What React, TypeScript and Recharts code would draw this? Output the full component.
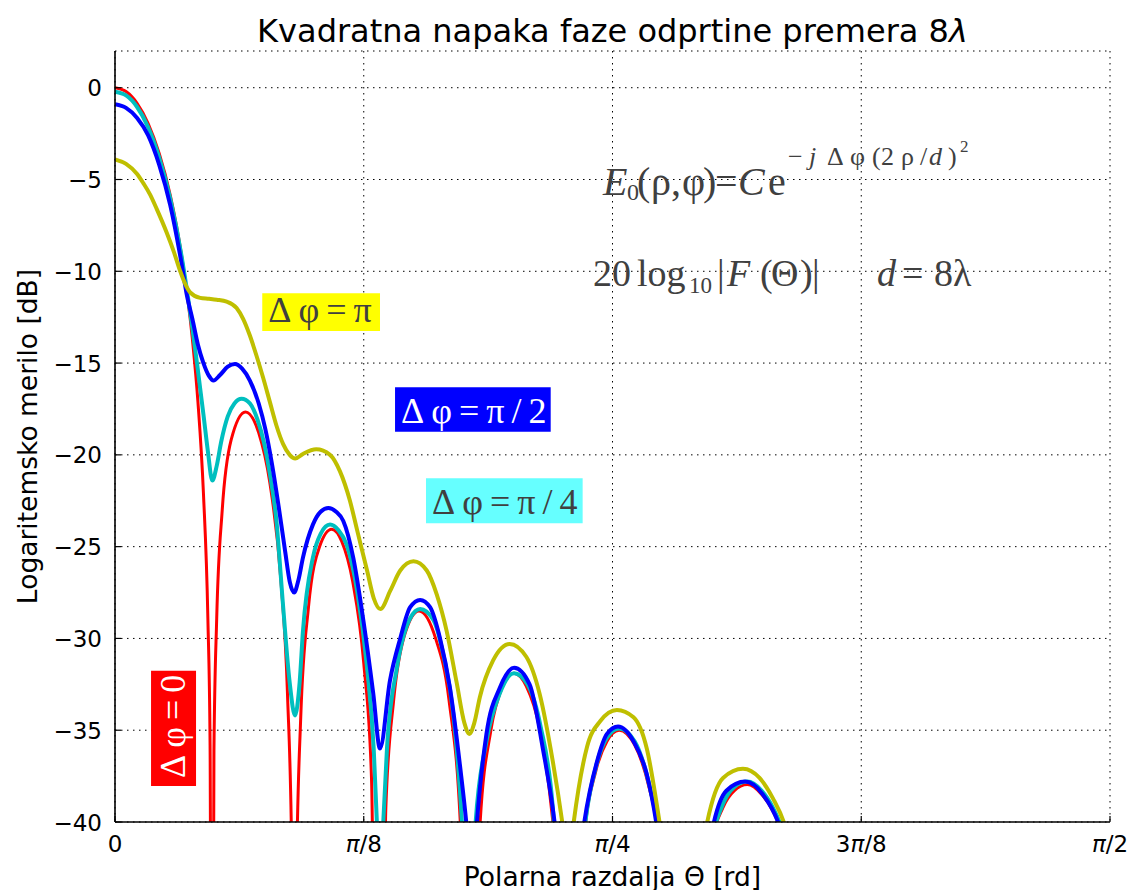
import React from 'react';
import { LineChart, Line, XAxis, YAxis, CartesianGrid, ReferenceArea, ReferenceDot, Label } from 'recharts';

// x in degrees (0..90 = 0..π/2), y in dB
const xTicks = [0, 22.5, 45, 67.5, 90];
const xTickLabels = ['0', 'π/8', 'π/4', '3π/8', 'π/2'];
const yTicks = [-40, -35, -30, -25, -20, -15, -10, -5, 0];
const yTickLabels = ['−40', '−35', '−30', '−25', '−20', '−15', '−10', '−5', '0'];

const seriesNames = ['Δφ=0', 'Δφ=π/4', 'Δφ=π/2', 'Δφ=π'];

// Δφ = 0 (red)
const redX = [0, 1, 2, 3, 4, 5, 6, 7, 7.5, 8, 8.4, 8.6, 8.77, 8.95, 9.2, 9.7, 10.5, 11.8, 13, 14, 15, 15.6, 16.0, 16.19, 16.4, 16.8, 17.5, 18.5, 19.6, 20.5, 21.5, 22.5, 23.2, 23.88, 24.5, 25.2, 26.2, 27.5, 29, 30.2, 31.3, 32.02, 33, 34, 35, 36.07, 37.2, 38.4, 39.5, 40.2, 40.97, 42.4, 43.5, 44.5, 45.6, 47, 48.3, 49.3, 51.28, 53.5, 55, 56, 57.2, 58.5, 59.5, 60.5, 61.5, 64.9];
const redY = [0, -0.21, -0.85, -1.95, -3.58, -5.86, -9.06, -13.7, -17.1, -22.1, -28.9, -35.8, -70, -36.1, -28.9, -23.0, -19.2, -17.66, -18.8, -21.5, -26.8, -33.0, -42.3, -70, -43.7, -34.3, -28.3, -25.0, -24.05, -24.7, -26.9, -31.35, -37.6, -70, -39.2, -33.4, -29.8, -28.5, -30.0, -33.3, -40.9, -70, -40.3, -35.0, -32.7, -31.9, -32.6, -34.9, -39.4, -44.6, -70, -41.1, -37.2, -35.6, -35.0, -35.8, -38.1, -41.3, -70, -42.5, -39.2, -38.3, -37.96, -38.5, -39.4, -40.8, -42.8, -70];

// Δφ = π/4 (cyan)
const cyanX = [0, 1, 2, 3, 4, 5, 6, 6.5, 7, 7.5, 8, 8.4, 8.8, 9.2, 9.6, 10.2, 10.8, 11.45, 12.2, 12.9, 13.5, 14.0, 14.6, 15.2, 15.8, 16.28, 16.7, 17.0, 17.9, 18.6, 19.45, 20.2, 20.96, 21.9, 22.8, 23.4, 23.7, 24.0, 24.25, 24.6, 25.5, 26.7, 27.6, 28.8, 29.7, 30.6, 31.4, 32.0, 32.6, 33.6, 34.8, 36.1, 37.3, 38.5, 39.6, 40.97, 42.4, 43.5, 44.5, 45.6, 47, 48.3, 49.3, 51.3, 53.5, 55, 56, 57.2, 58.5, 59.5, 60.5, 61.5, 64.9];
const cyanY = [-0.22, -0.42, -1.05, -2.15, -3.8, -6.05, -9.1, -11.0, -13.1, -15.4, -17.8, -19.8, -21.4, -20.6, -19.3, -17.9, -17.2, -16.95, -17.2, -18.1, -19.4, -21.0, -23.6, -28.2, -32.4, -34.2, -32.4, -29.6, -25.6, -24.3, -23.8, -24.1, -24.9, -27.4, -31.6, -36.0, -40.2, -44, -40.2, -36.0, -31.6, -28.9, -28.4, -29.0, -30.9, -34.1, -40.2, -48, -40.2, -35.6, -33.0, -31.9, -32.5, -34.8, -39.2, -55, -40.8, -37.0, -35.4, -34.9, -35.6, -37.9, -41, -55, -42.3, -39.0, -38.1, -37.8, -38.3, -39.2, -40.6, -42.6, -60];

// Δφ = π/2 (blue)
const blueX = [0, 1, 2, 3, 4, 5, 6, 6.5, 7, 7.5, 8, 8.5, 8.9, 9.5, 10.2, 10.85, 11.5, 12.2, 13.0, 13.6, 14.2, 14.8, 15.4, 15.8, 16.2, 16.6, 17.0, 17.9, 18.6, 19.3, 20.0, 20.65, 21.55, 22.46, 23.36, 23.97, 24.87, 25.8, 26.7, 27.6, 28.5, 29.4, 30.3, 31.2, 31.8, 32.3, 32.7, 33.6, 34.8, 36.1, 37.5, 38.7, 39.8, 41.0, 42.4, 43.6, 44.5, 45.5, 46.9, 48.1, 49.0, 51.3, 54.1, 55.3, 57.0, 58.6, 60.1, 62, 65];
const blueY = [-0.9, -1.1, -1.65, -2.6, -4.2, -6.4, -9.5, -11.3, -12.6, -14.0, -15.0, -15.7, -15.95, -15.65, -15.2, -15.05, -15.3, -15.95, -17.2, -18.6, -20.5, -22.8, -25.3, -26.9, -27.5, -26.8, -25.6, -23.8, -23.1, -22.9, -23.1, -23.6, -25.6, -29.0, -33.0, -36.0, -32.3, -30.0, -28.3, -27.9, -28.3, -30.0, -32.7, -36.9, -40.2, -44, -40.3, -35.2, -32.7, -31.6, -32.5, -36.0, -40.2, -48, -40.2, -36.7, -35.2, -34.8, -35.6, -37.4, -40.2, -55, -40.2, -38.3, -37.8, -38.5, -40.2, -45, -55];

// Δφ = π (yellow)
const yellowX = [0, 1, 2, 2.56, 3.2, 3.77, 4.68, 5.3, 5.9, 6.4, 6.8, 7.7, 8.5, 9.2, 10.1, 11.0, 11.6, 12.2, 12.8, 13.4, 14.0, 14.6, 15.2, 15.8, 16.3, 17.0, 18.2, 19.45, 20.35, 21.25, 21.9, 22.8, 23.4, 24.0, 24.9, 25.8, 27.0, 28.2, 29.1, 30.0, 30.9, 31.6, 32.05, 32.5, 33.0, 34.2, 35.7, 37.2, 38.4, 39.6, 40.5, 41.0, 41.45, 42.7, 43.9, 45.4, 46.9, 48.1, 49.3, 51.4, 53.5, 55.0, 56.8, 58.3, 59.5, 60.6, 62, 65];
const yellowY = [-3.9, -4.15, -4.7, -5.2, -5.85, -6.6, -7.9, -8.9, -10.0, -10.75, -11.15, -11.45, -11.5, -11.55, -11.65, -12.0, -12.6, -13.5, -14.6, -15.8, -17.1, -18.4, -19.4, -20.0, -20.2, -19.95, -19.7, -20.0, -20.9, -22.5, -24.1, -26.3, -27.8, -28.4, -27.4, -26.3, -25.8, -26.3, -27.6, -29.6, -32.4, -34.6, -35.2, -34.6, -33.2, -31.2, -30.3, -31.0, -33.0, -36.7, -40.2, -42.5, -40.2, -35.9, -34.5, -33.9, -34.3, -36.0, -40.2, -50, -40.2, -37.6, -37.1, -37.6, -38.7, -40.2, -44, -52];

const toData = (xs: number[], ys: number[]) => xs.map((x, i) => ({ x, y: ys[i] }));

const SANS = "'DejaVu Sans', sans-serif";
const SERIF = "'Liberation Serif', 'DejaVu Serif', serif";
const TXT = '#404040';

function piText(label: string) {
  const parts = label.split('π');
  if (parts.length === 1) return label;
  return (
    <>
      {parts[0]}
      <tspan fontStyle="italic">π</tspan>
      {parts[1]}
    </>
  );
}

function BottomTick(props: any) {
  const { x, y, payload } = props;
  const i = xTicks.indexOf(payload.value);
  return (
    <g>
      <line x1={x} y1={y} x2={x} y2={y - 6} stroke="#000" strokeWidth={1.2} />
      <text x={x} y={y + 30} textAnchor="middle" fontFamily={SANS} fontSize={23} fill="#000">
        {piText(xTickLabels[i] ?? '')}
      </text>
    </g>
  );
}
function TopTick(props: any) {
  const { x, y } = props;
  return <line x1={x} y1={y} x2={x} y2={y + 6} stroke="#000" strokeWidth={1.2} />;
}
function LeftTick(props: any) {
  const { x, y, payload } = props;
  const i = yTicks.indexOf(payload.value);
  return (
    <g>
      <line x1={x} y1={y} x2={x + 6} y2={y} stroke="#000" strokeWidth={1.2} />
      <text x={x - 13} y={y + 8.5} textAnchor="end" fontFamily={SANS} fontSize={23} fill="#000">
        {yTickLabels[i] ?? ''}
      </text>
    </g>
  );
}
function RightTick(props: any) {
  const { x, y } = props;
  return <line x1={x} y1={y} x2={x - 6} y2={y} stroke="#000" strokeWidth={1.2} />;
}

const vb = (p: any) => p.viewBox || { x: 0, y: 0, width: 0, height: 0 };
const center = (p: any) => {
  const v = vb(p);
  return { cx: v.x + (v.width || 0) / 2, cy: v.y + (v.height || 0) / 2 };
};

const titleContent = (p: any) => {
  const { cy } = center(p);
  return (
    <text x={612.5} y={cy - 9} textAnchor="middle" fontFamily={SANS} fontSize={32} fill="#000">
      Kvadratna napaka faze odprtine premera 8<tspan fontStyle="italic">λ</tspan>
    </text>
  );
};
const xLabelContent = (p: any) => {
  const v = vb(p);
  return (
    <text x={v.x + v.width / 2} y={v.y + 64} textAnchor="middle" fontFamily={SANS} fontSize={26.5} fill="#000">
      Polarna razdalja Θ [rd]
    </text>
  );
};
const yLabelContent = (p: any) => {
  const v = vb(p);
  const cy = v.y + v.height / 2;
  return (
    <text transform={`translate(37, ${cy}) rotate(-90)`} textAnchor="middle" fontFamily={SANS} fontSize={26.5} fill="#000">
      Logaritemsko merilo [dB]
    </text>
  );
};

const boxLabel = (text: string, color: string) => (p: any) => {
  const v = vb(p);
  return (
    <text x={v.x + 6} y={v.y + v.height - 9} fontFamily={SERIF} fontSize={36} letterSpacing={7} fill={color}>
      {text}
    </text>
  );
};
const redBoxLabel = (p: any) => {
  const v = vb(p);
  return (
    <text transform={`translate(${v.x + 34}, ${v.y + v.height - 8}) rotate(-90)`} fontFamily={SERIF} fontSize={36} letterSpacing={7} fill="#fff">
      {seriesNames[0]}
    </text>
  );
};

const eq1 = (p: any) => {
  const { cx: ax, cy: ay } = center(p);
  const e = ay - 30;
  const s = 26;
  return (
    <text fontFamily={SERIF} fontSize={40} fill={TXT}>
      <tspan x={ax - 2} y={ay} fontStyle="italic">E</tspan>
      <tspan x={ax + 22} y={ay + 5} fontSize={24}>0</tspan>
      <tspan x={ax + 32} y={ay}>(</tspan>
      <tspan x={ax + 46} y={ay}>ρ</tspan>
      <tspan x={ax + 66} y={ay}>,</tspan>
      <tspan x={ax + 77} y={ay}>φ</tspan>
      <tspan x={ax + 98} y={ay}>)</tspan>
      <tspan x={ax + 110} y={ay}>=</tspan>
      <tspan x={ax + 133} y={ay} fontStyle="italic">C</tspan>
      <tspan x={ax + 163} y={ay}>e</tspan>
      <tspan x={ax + 183} y={e} fontSize={s}>−</tspan>
      <tspan x={ax + 204} y={e} fontSize={s} fontStyle="italic">j</tspan>
      <tspan x={ax + 222} y={e} fontSize={s}>Δ</tspan>
      <tspan x={ax + 245} y={e} fontSize={s}>φ</tspan>
      <tspan x={ax + 267} y={e} fontSize={s}>(</tspan>
      <tspan x={ax + 276} y={e} fontSize={s}>2</tspan>
      <tspan x={ax + 296} y={e} fontSize={s}>ρ</tspan>
      <tspan x={ax + 315} y={e} fontSize={s}>/</tspan>
      <tspan x={ax + 324} y={e} fontSize={s} fontStyle="italic">d</tspan>
      <tspan x={ax + 343} y={e} fontSize={s}>)</tspan>
      <tspan x={ax + 355} y={ay - 43} fontSize={17}>2</tspan>
    </text>
  );
};
const eq2 = (p: any) => {
  const { cx: ax, cy: ay } = center(p);
  return (
    <text fontFamily={SERIF} fontSize={38} fill={TXT}>
      <tspan x={ax} y={ay}>20</tspan>
      <tspan x={ax + 44} y={ay}>log</tspan>
      <tspan x={ax + 96} y={ay + 7} fontSize={23}>10</tspan>
      <tspan x={ax + 124} y={ay}>|</tspan>
      <tspan x={ax + 134} y={ay} fontStyle="italic">F</tspan>
      <tspan x={ax + 167} y={ay}>(</tspan>
      <tspan x={ax + 178} y={ay}>Θ</tspan>
      <tspan x={ax + 207} y={ay}>)</tspan>
      <tspan x={ax + 219} y={ay}>|</tspan>
      <tspan x={ax + 284} y={ay} fontStyle="italic">d</tspan>
      <tspan x={ax + 309} y={ay}>=</tspan>
      <tspan x={ax + 341} y={ay}>8</tspan>
      <tspan x={ax + 360} y={ay}>λ</tspan>
    </text>
  );
};

export default function App() {
  const axisLine = { stroke: '#000', strokeWidth: 1.6 };
  return (
    <div style={{ position: 'absolute', left: 0, top: 0, width: 1131, height: 890, background: '#fff' }}>
      <LineChart width={1131} height={890} margin={{ top: 51, right: 21, bottom: 0, left: 0 }}>
        <CartesianGrid stroke="#000" strokeDasharray="1.5 4.5" strokeWidth={1} />
        <XAxis dataKey="x" type="number" domain={[0, 90]} ticks={xTicks} interval={0} allowDataOverflow
          height={68} tickSize={0} tickMargin={0} tickLine={false} axisLine={axisLine} tick={<BottomTick />}>
          <Label content={xLabelContent} />
        </XAxis>
        <XAxis xAxisId="top" orientation="top" type="number" domain={[0, 90]} ticks={xTicks} interval={0} allowDataOverflow
          height={0} tickSize={0} tickMargin={0} tickLine={false} axisLine={axisLine} tick={<TopTick />} />
        <YAxis type="number" domain={[-40, 2]} ticks={yTicks} interval={0} allowDataOverflow
          width={115} tickSize={0} tickMargin={0} tickLine={false} axisLine={axisLine} tick={<LeftTick />}>
          <Label content={yLabelContent} />
        </YAxis>
        <YAxis yAxisId="right" orientation="right" type="number" domain={[-40, 2]} ticks={yTicks} interval={0} allowDataOverflow
          width={0} tickSize={0} tickMargin={0} tickLine={false} axisLine={axisLine} tick={<RightTick />} />

        <Line data={toData(redX, redY)} dataKey="y" name={seriesNames[0]} type="monotone" stroke="#ff0000" strokeWidth={3} dot={false} isAnimationActive={false} />
        <Line data={toData(cyanX, cyanY)} dataKey="y" name={seriesNames[1]} type="monotone" stroke="#00bfbf" strokeWidth={4} dot={false} isAnimationActive={false} />
        <Line data={toData(blueX, blueY)} dataKey="y" name={seriesNames[2]} type="monotone" stroke="#0000ff" strokeWidth={4} dot={false} isAnimationActive={false} />
        <Line data={toData(yellowX, yellowY)} dataKey="y" name={seriesNames[3]} type="monotone" stroke="#bfbf00" strokeWidth={4} dot={false} isAnimationActive={false} />

        <ReferenceArea x1={13.32} x2={23.97} y1={-13.25} y2={-11.2} fill="#ffff00" fillOpacity={1} stroke="none"
          label={boxLabel(seriesNames[3], TXT)} />
        <ReferenceArea x1={25.33} x2={39.41} y1={-18.74} y2={-16.32} fill="#0000ff" fillOpacity={1} stroke="none"
          label={boxLabel(seriesNames[2], '#ffffff')} />
        <ReferenceArea x1={28.13} x2={42.3} y1={-23.73} y2={-21.27} fill="#66ffff" fillOpacity={1} stroke="none"
          label={boxLabel(seriesNames[1], TXT)} />
        <ReferenceArea x1={3.26} x2={7.33} y1={-38.04} y2={-31.76} fill="#ff0000" fillOpacity={1} stroke="none"
          label={redBoxLabel} />

        <ReferenceDot x={45} y={2} r={1} fill="none" stroke="none" label={titleContent} />
        <ReferenceDot x={44.32} y={-5.84} r={1} fill="none" stroke="none" label={eq1} />
        <ReferenceDot x={43.23} y={-10.8} r={1} fill="none" stroke="none" label={eq2} />
      </LineChart>
    </div>
  );
}
